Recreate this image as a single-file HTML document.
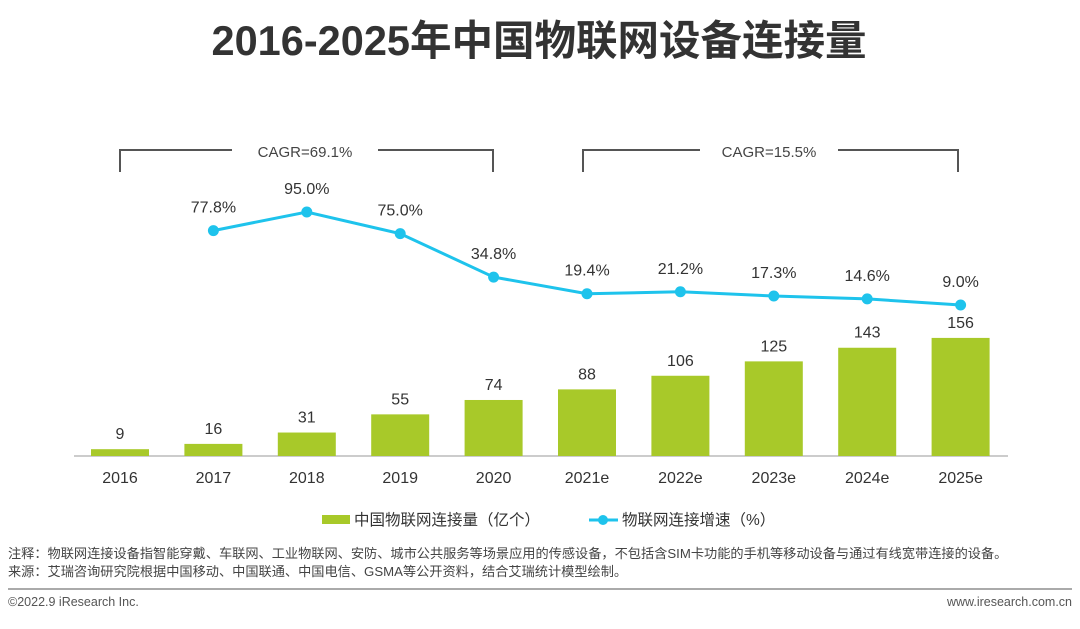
<!DOCTYPE html>
<html><head><meta charset="utf-8"><style>
body{margin:0;background:#fff;width:1080px;height:624px;overflow:hidden;font-family:"Liberation Sans","Noto Sans CJK SC",sans-serif}
</style></head><body>
<svg id="c" width="1080" height="624" xmlns="http://www.w3.org/2000/svg" style="font-family:'Liberation Sans','Noto Sans CJK SC',sans-serif">
<text x="539" y="55" text-anchor="middle" font-size="41.5" font-weight="bold" fill="#333">2016-2025年中国物联网设备连接量</text>
<g stroke="#555" stroke-width="2" fill="none"><path d="M120,172 V150 H232 M378,150 H493 V172"/></g>
<text x="305" y="157" text-anchor="middle" font-size="15" fill="#444">CAGR=69.1%</text>
<g stroke="#555" stroke-width="2" fill="none"><path d="M583,172 V150 H700 M838,150 H958 V172"/></g>
<text x="769" y="157" text-anchor="middle" font-size="15" fill="#444">CAGR=15.5%</text>
<line x1="74" y1="456" x2="1008" y2="456" stroke="#999" stroke-width="1"/>
<g id="bars"></g><g id="line"></g><g id="xt"></g>
<g>
<rect x="322" y="515" width="28" height="9" fill="#a8c929"/>
<text x="354" y="525" font-size="15.5" fill="#333">中国物联网连接量（亿个）</text>
<line x1="589" y1="520" x2="618" y2="520" stroke="#1ec3ec" stroke-width="3"/>
<circle cx="603" cy="520" r="5" fill="#1ec3ec"/>
<text x="622" y="525" font-size="15.5" fill="#333">物联网连接增速（%）</text>
</g>
<text x="8" y="558" font-size="13.2" fill="#444">注释：物联网连接设备指智能穿戴、车联网、工业物联网、安防、城市公共服务等场景应用的传感设备，不包括含SIM卡功能的手机等移动设备与通过有线宽带连接的设备。</text>
<text x="8" y="576" font-size="13.2" fill="#444">来源：艾瑞咨询研究院根据中国移动、中国联通、中国电信、GSMA等公开资料，结合艾瑞统计模型绘制。</text>
<line x1="8" y1="589" x2="1072" y2="589" stroke="#aaa" stroke-width="2"/>
<text x="8" y="606" font-size="12.5" fill="#555">©2022.9 iResearch Inc.</text>
<text x="1072" y="606" text-anchor="end" font-size="12.5" fill="#555">www.iresearch.com.cn</text>
</svg>
<script>
const categories=["2016","2017","2018","2019","2020","2021e","2022e","2023e","2024e","2025e"];
const connections=[9,16,31,55,74,88,106,125,143,156];
const growth=[null,77.8,95.0,75.0,34.8,19.4,21.2,17.3,14.6,9.0];
const NS="http://www.w3.org/2000/svg";
const x=i=>120+i*93.4;
const yb=v=>456-v*0.757;
const yl=v=>314.7-v*1.081;
function mk(tag,attrs,parent,txt){const e=document.createElementNS(NS,tag);for(const k in attrs)e.setAttribute(k,attrs[k]);if(txt!=null)e.textContent=txt;parent.appendChild(e);return e;}
const bars=document.getElementById('bars'),line=document.getElementById('line'),xt=document.getElementById('xt');
categories.forEach((c,i)=>{
 const r=mk('rect',{x:x(i)-29,y:yb(connections[i]),width:58,height:456-yb(connections[i]),fill:'#a8c929'},bars);
 
 
 const t=mk('text',{x:x(i),y:yb(connections[i])-10,'text-anchor':'middle','font-size':16,fill:'#333'},bars,connections[i]);
 
 
 const l=mk('text',{x:x(i),y:483,'text-anchor':'middle','font-size':16,fill:'#333'},xt,c);
 
 
});
let pts=[];growth.forEach((g,i)=>{if(g!=null)pts.push([x(i),yl(g)]);});
const p=mk('polyline',{points:pts.map(q=>q.join(',')).join(' '),fill:'none',stroke:'#1ec3ec','stroke-width':3},line);


growth.forEach((g,i)=>{if(g==null)return;
 const c=mk('circle',{cx:x(i),cy:yl(g),r:5.5,fill:'#1ec3ec'},line);
 
 
 const t=mk('text',{x:x(i),y:yl(g)-18,'text-anchor':'middle','font-size':16,fill:'#333'},line,g.toFixed(1)+'%');
 
 
});
</script>
</body></html>
